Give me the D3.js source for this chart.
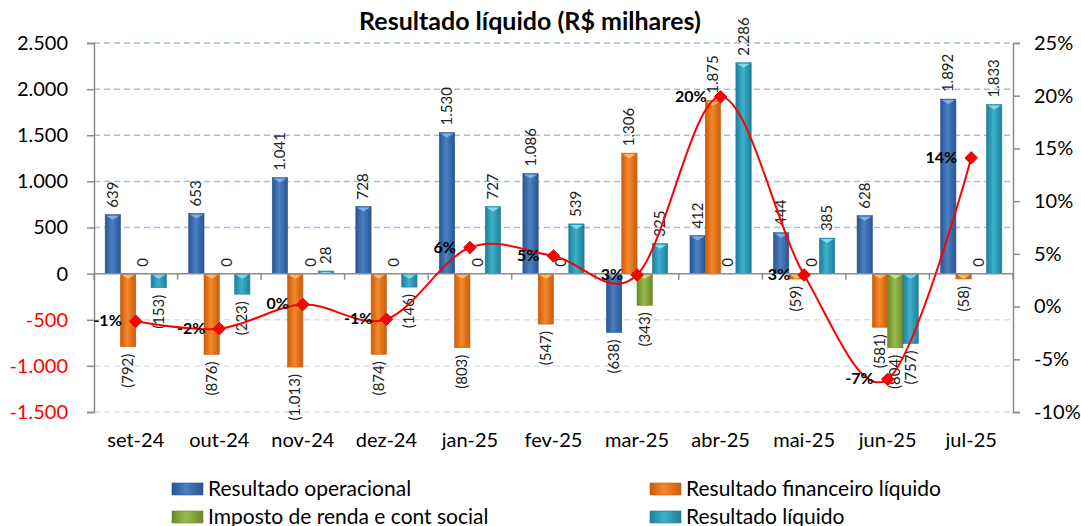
<!DOCTYPE html>
<html>
<head>
<meta charset="utf-8">
<script src="https://cdn.jsdelivr.net/npm/d3@7"></script>
<style>
  body { margin: 0; background: #fff; }
  svg text { font-family: Lato, "Open Sans", sans-serif; }
</style>
</head>
<body>
<svg id="chart" width="1081" height="526"></svg>
<script>
// # DATA
// # ------------------------------
var months      = ["set-24","out-24","nov-24","dez-24","jan-25","fev-25","mar-25","abr-25","mai-25","jun-25","jul-25"];
var operacional = [639, 653, 1041, 728, 1530, 1086, -638, 412, 444, 628, 1892];
var financeiro  = [-792, -876, -1013, -874, -803, -547, 1306, 1875, -59, -581, -58];
var imposto     = [0, 0, 0, 0, 0, 0, -343, 0, 0, -804, 0];
var liquido     = [-153, -223, 28, -146, 727, 539, 325, 2286, 385, -757, 1833];
var margem      = [-1.4, -2.1, 0.2, -1.2, 5.6, 4.8, 3.0, 19.9, 3.0, -6.9, 14.1];

var leftTicks   = [-1500, -1000, -500, 0, 500, 1000, 1500, 2000, 2500];
var rightTicks  = [-10, -5, 0, 5, 10, 15, 20, 25];

var seriesNames = ["Resultado operacional", "Resultado financeiro líquido", "Imposto de renda e cont social", "Resultado líquido"];
var seriesVals  = [operacional, financeiro, imposto, liquido];
var seriesCols  = [
  {dark: "#2a5590", mid: "#4a80c4", cap: "#8fb6ea"},
  {dark: "#c85d0c", mid: "#f5882a", cap: "#ffc280"},
  {dark: "#6a8a2a", mid: "#9aba4e", cap: "#cfe59a"},
  {dark: "#1f7f98", mid: "#3cb0cc", cap: "#90e0f2"}
];

// # MISC
// # ------------------------------
var locale = d3.formatLocale({decimal: ",", thousands: ".", grouping: [3], currency: ["R$", ""]});
var fmt    = locale.format(",d");
var fmtVal = function(v) { return v < 0 ? "(" + fmt(-v) + ")" : fmt(v); };

var svg    = d3.select("#chart");
var pLeft  = 94, pRight = 1013, pTop = 43, pBottom = 412;

var x  = d3.scaleBand().domain(months).range([pLeft, pRight]);
var xs = d3.scaleBand().domain(d3.range(4)).range([-30.6, 30.6]);
var y  = d3.scaleLinear().domain([-1500, 2500]).range([pBottom, pTop]);
var y2 = d3.scaleLinear().domain([-10, 25]).range([pBottom, pTop]);

// ## gradients
var defs = svg.append("defs");
seriesCols.forEach(function(c, i) {
  var g = defs.append("linearGradient").attr("id", "grad" + i)
      .attr("x1", "0%").attr("x2", "100%").attr("y1", "0%").attr("y2", "0%");
  g.append("stop").attr("offset", "0%").attr("stop-color", c.dark);
  g.append("stop").attr("offset", "45%").attr("stop-color", c.mid);
  g.append("stop").attr("offset", "100%").attr("stop-color", c.dark);
});

// ## title
svg.append("text")
   .attr("x", 530).attr("y", 30)
   .attr("text-anchor", "middle")
   .style("font-size", "25px").style("font-weight", "bold")
   .text("Resultado líquido (R$ milhares)");

// ## gridlines
svg.append("g").selectAll("line")
   .data(leftTicks.filter(function(d) { return d != 0; }))
   .enter().append("line")
   .attr("x1", pLeft).attr("x2", pRight)
   .attr("y1", function(d) { return y(d); }).attr("y2", function(d) { return y(d); })
   .attr("stroke", function(d) { return d > 0 ? "#a3bcea" : "#d6e0f4"; })
   .attr("stroke-width", 1.5)
   .attr("stroke-dasharray", "6,4");

// ## left axis
var gl = svg.append("g").attr("transform", "translate(" + pLeft + ",0)")
   .call(d3.axisLeft(y).tickValues(leftTicks).tickSize(7).tickPadding(19));
gl.select(".domain").attr("stroke", "#8c8c8c").attr("stroke-width", 1.5);
gl.selectAll(".tick line").attr("stroke", "#8c8c8c").attr("stroke-width", 1.5);
gl.selectAll(".tick text")
  .style("font-size", "20px")
  .attr("fill", function(d) { return d < 0 ? "#ff0000" : "#000"; })
  .text(function(d) { return d < 0 ? "-" + fmt(-d) : fmt(d); });

// ## right axis
var gr = svg.append("g").attr("transform", "translate(" + pRight + ",0)")
   .call(d3.axisRight(y2).tickValues(rightTicks).tickSize(7).tickPadding(14)
          .tickFormat(function(d) { return d + "%"; }));
gr.select(".domain").attr("stroke", "#8c8c8c").attr("stroke-width", 1.5);
gr.selectAll(".tick line").attr("stroke", "#8c8c8c").attr("stroke-width", 1.5);
gr.selectAll(".tick text").style("font-size", "20px").attr("fill", "#000");

// ## bars
var bars = svg.append("g");
seriesVals.forEach(function(vals, s) {
  var bw = xs.bandwidth();
  var grp = bars.append("g");
  vals.forEach(function(v, i) {
    if (v == 0) return;
    var x0 = x(months[i]) + x.bandwidth() / 2 + xs(s);
    var y0 = Math.min(y(v), y(0)), h = Math.abs(y(v) - y(0));
    grp.append("rect")
       .attr("x", x0).attr("y", y0).attr("width", bw).attr("height", h)
       .attr("fill", "url(#grad" + s + ")")
       .attr("stroke", seriesCols[s].dark).attr("stroke-width", 0.6);
    grp.append("path")
       .attr("d", "M" + (x0 + 1) + "," + (y0 + 1) + "L" + (x0 + bw - 1) + "," + (y0 + 1) +
                  "L" + (x0 + bw / 2) + "," + (y0 + Math.min(5, h)) + "Z")
       .attr("fill", seriesCols[s].cap).attr("opacity", 0.85);
  });
});

// ## x axis (zero line)
svg.append("line")
   .attr("x1", pLeft).attr("x2", pRight).attr("y1", y(0)).attr("y2", y(0))
   .attr("stroke", "#8c8c8c").attr("stroke-width", 1.5);
svg.append("g").selectAll("line")
   .data(months.concat(["end"]))
   .enter().append("line")
   .attr("x1", function(d, i) { return pLeft + i * x.step(); })
   .attr("x2", function(d, i) { return pLeft + i * x.step(); })
   .attr("y1", y(0)).attr("y2", y(0) + 6)
   .attr("stroke", "#8c8c8c").attr("stroke-width", 1.5);

svg.append("g").selectAll("text")
   .data(months)
   .enter().append("text")
   .attr("x", function(d) { return x(d) + x.bandwidth() / 2; })
   .attr("y", 447)
   .attr("text-anchor", "middle")
   .style("font-size", "20px")
   .text(function(d) { return d; });

// ## bar labels
var labels = svg.append("g");
seriesVals.forEach(function(vals, s) {
  vals.forEach(function(v, i) {
    var cx = x(months[i]) + x.bandwidth() / 2 + xs(s) + xs.bandwidth() / 2;
    var yy = v >= 0 ? y(v) - 7 : y(v) + 7;
    labels.append("text")
       .attr("transform", "translate(" + (cx + 5) + "," + yy + ") rotate(-90)")
       .attr("text-anchor", v >= 0 ? "start" : "end")
       .style("font-size", "15px")
       .attr("fill", "#222")
       .text(fmtVal(v));
  });
});

// ## margin line
var pts = margem.map(function(v, i) { return [x(months[i]) + x.bandwidth() / 2, y2(v)]; });
svg.append("path")
   .attr("d", d3.line().curve(d3.curveCardinal.tension(0))(pts))
   .attr("fill", "none").attr("stroke", "#ff0000").attr("stroke-width", 2);

svg.append("g").selectAll("path")
   .data(pts)
   .enter().append("path")
   .attr("d", d3.symbol().type(d3.symbolSquare).size(80))
   .attr("transform", function(d) { return "translate(" + d[0] + "," + d[1] + ") rotate(45)"; })
   .attr("fill", "#ff0000").attr("stroke", "#d00000").attr("stroke-width", 0.8);

svg.append("g").selectAll("text")
   .data(pts)
   .enter().append("text")
   .attr("x", function(d) { return d[0] - 14; })
   .attr("y", function(d) { return d[1] + 5; })
   .attr("text-anchor", "end")
   .style("font-size", "16px").style("font-weight", "bold")
   .text(function(d, i) { return Math.round(margem[i]) + "%"; });

// ## legend
var legendPos = [[172, 489], [650, 489], [172, 517], [650, 517]];
var lg = svg.append("g").selectAll("g")
   .data(seriesNames)
   .enter().append("g")
   .attr("transform", function(d, i) { return "translate(" + legendPos[i][0] + "," + legendPos[i][1] + ")"; });
lg.append("rect")
  .attr("x", 0).attr("y", -6).attr("width", 31).attr("height", 12)
  .attr("fill", function(d, i) { return "url(#grad" + i + ")"; })
  .attr("stroke", function(d, i) { return seriesCols[i].dark; }).attr("stroke-width", 0.6);
lg.append("text")
  .attr("x", 36).attr("y", 7)
  .style("font-size", "21px")
  .text(function(d) { return d; });
</script>
</body>
</html>
